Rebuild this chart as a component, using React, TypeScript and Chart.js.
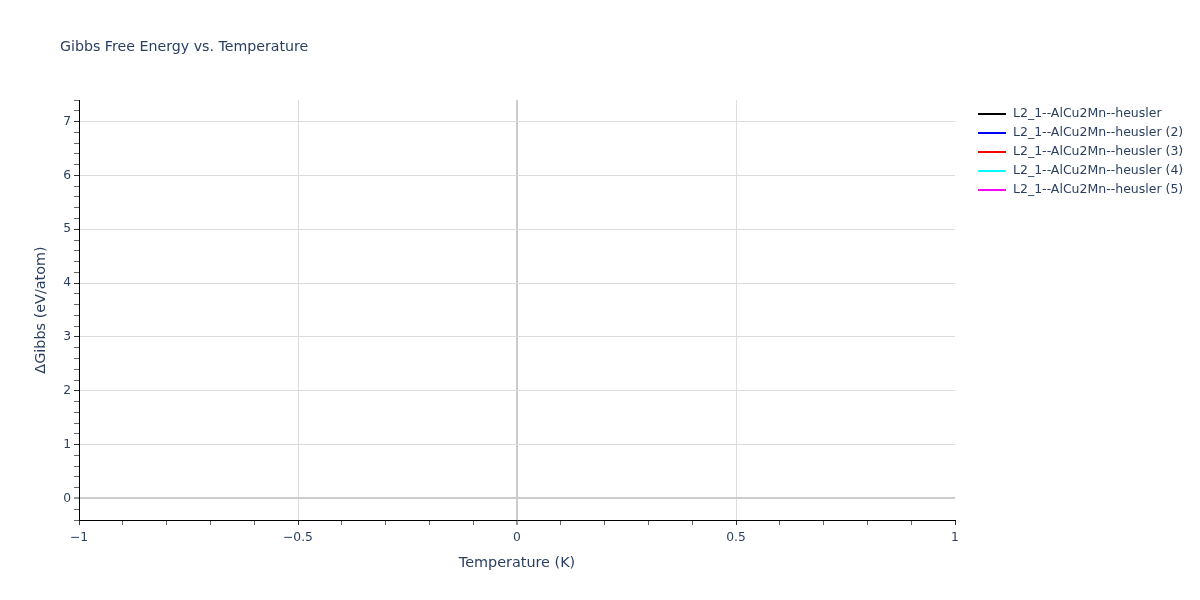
import { useEffect, useRef } from "react"
import { Chart, registerables } from "chart.js"

Chart.register(...registerables)

// Series (the reference shows the legend entries but no plotted points)
const temperatures: number[] = []
const seriesNames = [
  "L2_1--AlCu2Mn--heusler",
  "L2_1--AlCu2Mn--heusler (2)",
  "L2_1--AlCu2Mn--heusler (3)",
  "L2_1--AlCu2Mn--heusler (4)",
  "L2_1--AlCu2Mn--heusler (5)",
]
const seriesColors = ["#000000", "#0000ff", "#ff0000", "#00ffff", "#ff00ff"]
const gibbs1: number[] = []
const gibbs2: number[] = []
const gibbs3: number[] = []
const gibbs4: number[] = []
const gibbs5: number[] = []
const gibbsSeries = [gibbs1, gibbs2, gibbs3, gibbs4, gibbs5]

// Axis ranges and ticks
const xRange = [-1, 1]
const yRange = [-0.4, 7.4]
const xMinorStep = 0.1
const xMajorStep = 0.5
const yMinorStep = 0.2
const yMajorStep = 1

const TEXT = "#2a3f5f"
const FONT = "'DejaVu Sans', Verdana, sans-serif"
const GRID = "#dcdcdc"
const ZERO = "#cccccc"

const isMajor = (v: number, step: number) => Math.abs(v / step - Math.round(v / step)) < 1e-6
const fmt = (v: number) => String(Math.round(v * 100) / 100).replace("-", "\u2212")

const overlayPlugin = {
  id: "overlay",
  afterDraw: (chart: Chart) => {
    const ctx = chart.ctx
    ctx.save()
    // title
    ctx.fillStyle = TEXT
    ctx.font = `14.2px ${FONT}`
    ctx.textAlign = "left"
    ctx.textBaseline = "alphabetic"
    ctx.fillText("Gibbs Free Energy vs. Temperature", 60, 50.5)

    // legend
    ctx.font = `12.5px ${FONT}`
    ctx.textBaseline = "middle"
    chart.data.datasets.forEach((ds: any, i: number) => {
      const y = 114 + i * 19
      ctx.strokeStyle = ds.borderColor
      ctx.lineWidth = 2
      ctx.beginPath()
      ctx.moveTo(978, y)
      ctx.lineTo(1006, y)
      ctx.stroke()
      ctx.fillStyle = TEXT
      ctx.fillText(ds.label, 1013, y)
    })
    ctx.restore()
  },
}

export default function App() {
  const canvasRef = useRef<HTMLCanvasElement>(null)

  useEffect(() => {
    document.body.style.margin = "0"
    if (!canvasRef.current) return
    const chart = new Chart(canvasRef.current, {
      type: "line",
      data: {
        datasets: seriesNames.map((name, i) => ({
          label: name,
          data: temperatures.map((t, j) => ({ x: t, y: gibbsSeries[i][j] })),
          borderColor: seriesColors[i],
          backgroundColor: seriesColors[i],
          borderWidth: 2,
          pointRadius: 0,
          fill: false,
        })),
      },
      options: {
        animation: false,
        responsive: false,
        devicePixelRatio: 1,
        layout: { padding: { left: 0, right: 245, top: 100, bottom: 0 } },
        plugins: {
          legend: { display: false },
          title: { display: false },
          tooltip: { enabled: false },
        },
        scales: {
          x: {
            type: "linear",
            min: xRange[0],
            max: xRange[1],
            afterFit: (s: any) => { s.height = 80 },
            border: { display: true, color: "#000", width: 1 },
            grid: {
              color: (c: any) => {
                const v = c.tick?.value
                if (v === undefined || v === xRange[0] || v === xRange[1]) return "rgba(0,0,0,0)"
                if (Math.abs(v) < 1e-9) return ZERO
                return isMajor(v, xMajorStep) ? GRID : "rgba(0,0,0,0)"
              },
              lineWidth: (c: any) => (c.tick && Math.abs(c.tick.value) < 1e-9 ? 2 : 1),
              tickColor: (c: any) => (c.tick && isMajor(c.tick.value, xMajorStep) ? "#333" : "#666"),
              tickWidth: 1,
              tickLength: 5,
            },
            ticks: {
              stepSize: xMinorStep,
              autoSkip: false,
              maxRotation: 0,
              padding: 5,
              color: TEXT,
              font: { family: FONT, size: 12.3 },
              callback: (v: any) => (isMajor(Number(v), xMajorStep) ? fmt(Number(v)) : ""),
            },
            title: {
              display: true,
              text: "Temperature (K)",
              color: TEXT,
              font: { family: FONT, size: 14.4 },
              padding: { top: 0, bottom: 28.4 },
            },
          },
          y: {
            type: "linear",
            min: yRange[0],
            max: yRange[1],
            afterFit: (s: any) => { s.width = 79 },
            border: { display: true, color: "#000", width: 1 },
            grid: {
              color: (c: any) => {
                const v = c.tick?.value
                if (v === undefined) return "rgba(0,0,0,0)"
                if (Math.abs(v) < 1e-9) return ZERO
                return isMajor(v, yMajorStep) ? GRID : "rgba(0,0,0,0)"
              },
              lineWidth: (c: any) => (c.tick && Math.abs(c.tick.value) < 1e-9 ? 2 : 1),
              tickColor: (c: any) => (c.tick && isMajor(c.tick.value, yMajorStep) ? "#333" : "#666"),
              tickWidth: 1,
              tickLength: 5,
            },
            ticks: {
              stepSize: yMinorStep,
              includeBounds: false,
              autoSkip: false,
              padding: 3,
              color: TEXT,
              font: { family: FONT, size: 12.3 },
              callback: (v: any) => (isMajor(Number(v), yMajorStep) ? fmt(Number(v)) : ""),
            },
            title: {
              display: true,
              text: "\u0394Gibbs (eV/atom)",
              color: TEXT,
              font: { family: FONT, size: 14.4 },
              padding: { top: 32.5, bottom: 0 },
            },
          },
        },
      },
      plugins: [overlayPlugin],
    } as any)
    return () => chart.destroy()
  }, [])

  return (
    <div style={{ width: 1200, height: 600, background: "#fff" }}>
      <canvas ref={canvasRef} width={1200} height={600} />
    </div>
  )
}
